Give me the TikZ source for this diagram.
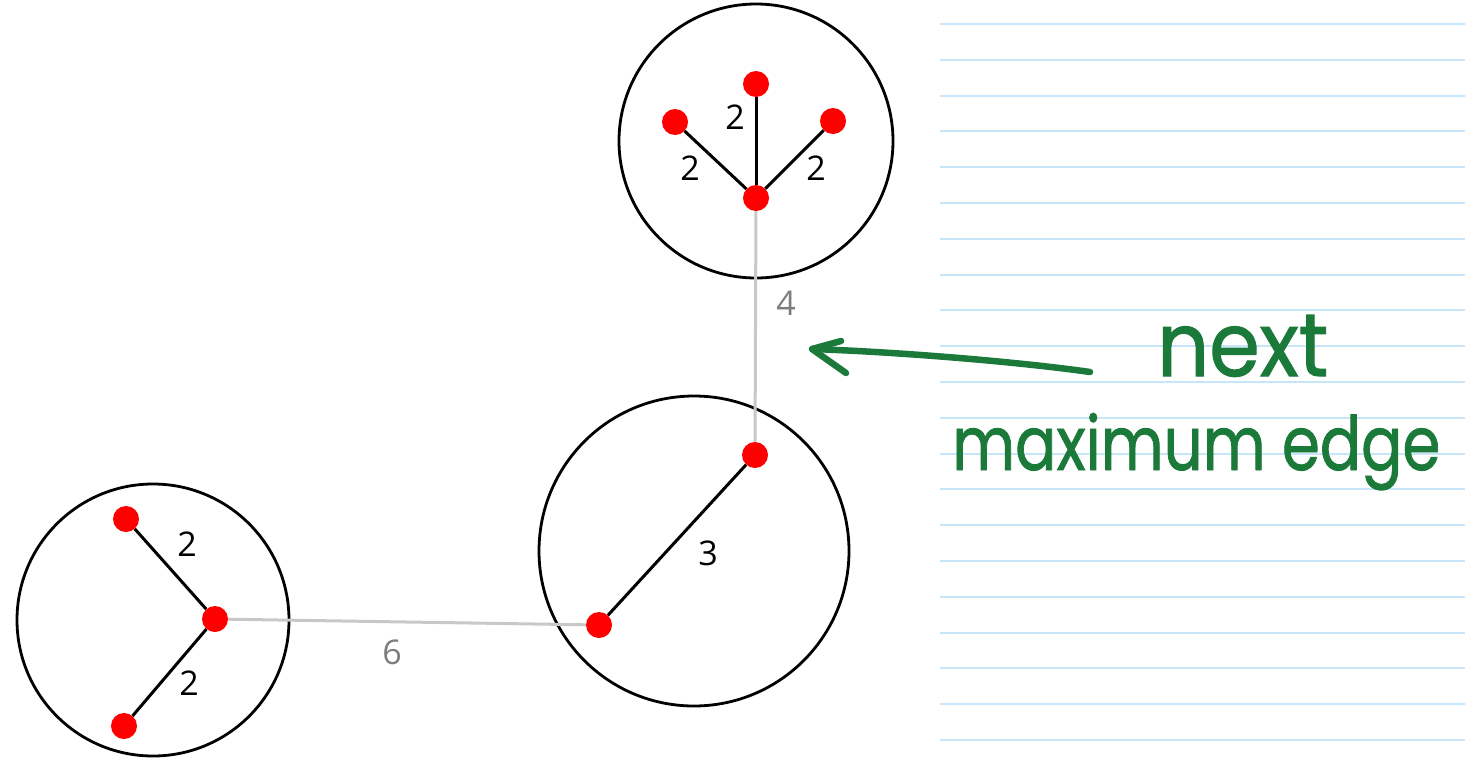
\documentclass[tikz,border=0pt]{standalone}
\usepackage{fontspec}
\setmainfont{Open Sans}
\newfontfamily\handfont[FakeBold=1.2]{Poppins}
\usepackage{graphicx}
\definecolor{ruleblue}{RGB}{200,230,250}
\definecolor{edgegray}{RGB}{200,200,200}
\definecolor{lblgray}{RGB}{125,125,125}
\definecolor{inkgreen}{RGB}{27,122,58}
\begin{document}
\begin{tikzpicture}[x=1pt,y=-1pt,
  vert/.style={circle, fill=red, inner sep=0pt, minimum size=26pt},
  cluster/.style={circle, draw=black, line width=2.8pt, inner sep=0pt, minimum size=#1},
  tree/.style={line width=3pt, black},
  link/.style={line width=3pt, edgegray},
  wt/.style={font=\fontsize{34}{40}\selectfont, inner sep=0pt},
  lwt/.style={wt, text=lblgray},
  ruled/.style={line width=2pt, ruleblue},
  ink/.style={inkgreen, line width=6.5pt, line cap=round, line join=round},
  hand/.style={text=inkgreen, inner sep=0pt, anchor=base west}]
\useasboundingbox (0,0) rectangle (1465,758);
\fill[white] (0,0) rectangle (1465,758);
% ruled paper
\foreach \i in {0,...,20}{
  \draw[ruled] (940,24+35.8*\i) -- (1465,24+35.8*\i);
}
% clusters
\node[cluster=274pt] (ctop) at (756,141) {};
\node[cluster=272pt] (cleft) at (153,620) {};
\node[cluster=310pt] (cmid) at (694,551) {};
% vertices
\node[vert] (t0) at (756,198) {};
\node[vert] (t1) at (756,84) {};
\node[vert] (t2) at (675,122) {};
\node[vert] (t3) at (833,121) {};
\node[vert] (l0) at (215,619) {};
\node[vert] (l1) at (126,519) {};
\node[vert] (l2) at (124,726) {};
\node[vert] (m0) at (755,455) {};
\node[vert] (m1) at (599,625) {};
% links between clusters
\draw[link] (t0) -- (m0);
\draw[link] (l0) -- (m1);
% tree edges
\draw[tree] (t0) -- (t1);
\draw[tree] (t0) -- (t2);
\draw[tree] (t0) -- (t3);
\draw[tree] (l0) -- (l1);
\draw[tree] (l0) -- (l2);
\draw[tree] (m0) -- (m1);
% weights
\node[wt] (w1) at (735,117) {2};
\node[wt] (w2) at (690,168) {2};
\node[wt] (w3) at (816,168) {2};
\node[wt] (w4) at (187,544) {2};
\node[wt] (w5) at (189,683) {2};
\node[wt] (w6) at (708,553) {3};
\node[lwt] (w7) at (786,303) {4};
\node[lwt] (w8) at (392,652) {6};
% handwritten note
\coordinate (atail) at (1090,372);
\coordinate (atip) at (812,349);
\coordinate (abarbup) at (841,341);
\coordinate (abarblo) at (846,373);
\draw[ink] (atail) .. controls (1020,362) and (900,352) .. (atip);
\draw[ink] (abarbup) -- (atip) -- (abarblo);
\node[hand] (next) at (1157,376) {\resizebox{171pt}{61pt}{\handfont next}};
\node[hand] (maxedge) at (952,470) {\resizebox{488pt}{57pt}{\handfont maximum edge}};
\end{tikzpicture}
\end{document}
